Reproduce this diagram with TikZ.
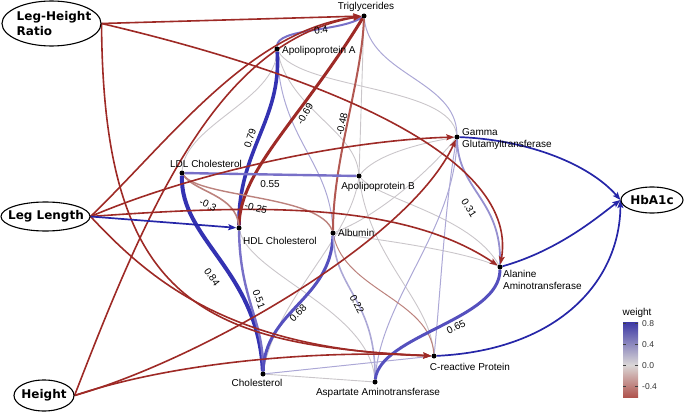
\documentclass[tikz,border=0pt]{standalone}
\usepackage{fontspec}
\setmainfont{Liberation Sans}
\newfontfamily\ovfont{DejaVu Sans}
\usetikzlibrary{arrows.meta,shapes.geometric}
\definecolor{redE}{RGB}{158,42,38}
\definecolor{blueE}{RGB}{38,38,168}
\definecolor{blueT}{RGB}{52,50,178}
\definecolor{blueM}{RGB}{85,80,190}
\definecolor{purM}{RGB}{120,112,200}
\definecolor{purN}{RGB}{150,144,208}
\definecolor{purL}{RGB}{172,168,214}
\definecolor{grayE}{RGB}{202,198,202}
\definecolor{redL}{RGB}{188,130,125}
\definecolor{redM}{RGB}{178,88,82}
\definecolor{legB}{RGB}{60,56,165}
\definecolor{legG}{RGB}{218,214,214}
\definecolor{legR}{RGB}{176,84,78}
\pgfdeclarelayer{bg}
\pgfsetlayers{bg,main}
\begin{document}
\begin{tikzpicture}[x=1pt,y=-1pt,
  dot/.style={circle,fill=black,inner sep=0pt,minimum size=5pt},
  lbl/.style={font=\fontsize{10}{12}\selectfont,inner sep=0pt},
  elbl/.style={font=\fontsize{10}{12}\selectfont,inner sep=0pt},
  oval/.style={ellipse,draw=black,line width=1.1pt,inner sep=0pt,fill=white},
  ovtxt/.style={font=\ovfont\bfseries\fontsize{12}{15}\selectfont,inner sep=0pt,align=left},
  tip/.style={-{Stealth[length=8pt,width=6pt,inset=1.5pt]}},
  redarrow/.style={draw=redE,line width=1.6pt,tip},
  bluearrow/.style={draw=blueE,line width=1.7pt,tip},
  weak/.style={draw=grayE,line width=0.9pt},
  weakp/.style={draw=purL,line width=1pt},
  tickmark/.style={draw=black!75,line width=0.6pt},
  ticklbl/.style={font=\fontsize{8.5}{10}\selectfont,inner sep=0pt,text=black!80},
]
\useasboundingbox (0,0) rectangle (685,412);

% ---------- outcome / exposure ellipses
\node[oval,minimum width=99pt,minimum height=45pt] (LHR) at (51.5,23.5) {};
\node[ovtxt] (LHRt) at (54,24) {Leg-Height\\Ratio};
\node[oval,minimum width=89pt,minimum height=29pt] (LL) at (45.5,216.5) {};
\node[ovtxt] (LLt) at (46,216.5) {Leg Length};
\node[oval,minimum width=60pt,minimum height=31pt] (H) at (44,395.5) {};
\node[ovtxt] (Ht) at (44,395.5) {Height};
\node[oval,minimum width=62pt,minimum height=26pt] (HbA) at (652,200) {};
\node[ovtxt] (HbAt) at (652,200) {HbA1c};

% ---------- biomarker dots
\node[dot] (TG) at (364,16) {};
\node[dot] (ApoA) at (277,49) {};
\node[dot] (GGT) at (457,137) {};
\node[dot] (LDL) at (182,173) {};
\node[dot] (ApoB) at (359,176) {};
\node[dot] (HDL) at (239,228) {};
\node[dot] (Alb) at (333,233) {};
\node[dot] (ALT) at (500,267) {};
\node[dot] (CRP) at (434,356) {};
\node[dot] (Chol) at (263,374) {};
\node[dot] (AST) at (375,382) {};

% ---------- biomarker labels
\node[lbl,anchor=base] (TGt) at (366,10) {Triglycerides};
\node[lbl,anchor=base west] (ApoAt) at (282,54) {Apolipoprotein A};
\node[lbl,anchor=base west] (GGTt1) at (462,135) {Gamma};
\node[lbl,anchor=base west] (GGTt2) at (462,147) {Glutamyltransferase};
\node[lbl,anchor=base] (LDLt) at (206,167) {LDL Cholesterol};
\node[lbl,anchor=base] (ApoBt) at (378,189) {Apolipoprotein B};
\node[lbl,anchor=base west] (HDLt) at (243,244) {HDL Cholesterol};
\node[lbl,anchor=base west] (Albt) at (338,236) {Albumin};
\node[lbl,anchor=base west] (ALTt1) at (503,277) {Alanine};
\node[lbl,anchor=base west] (ALTt2) at (503,289) {Aminotransferase};
\node[lbl,anchor=base] (CRPt) at (470,370) {C-reactive Protein};
\node[lbl,anchor=base] (Cholt) at (257,386) {Cholesterol};
\node[lbl,anchor=base] (ASTt) at (378,395) {Aspartate Aminotransferase};

\begin{pgfonlayer}{bg}
% ---------- weak edges
\draw[weak] (ApoA) .. controls (275,100) and (185,125) .. (LDL);
\draw[weak] (ApoA) .. controls (300,90) and (450,85) .. (GGT);
\draw[weak] (ApoA) .. controls (290,110) and (355,130) .. (ApoB);
\draw[weak] (TG) -- (ApoB);
\draw[weak] (ApoB) .. controls (380,150) and (440,140) .. (GGT);
\draw[weak] (ApoB) .. controls (350,240) and (275,300) .. (Chol);
\draw[weak] (ApoB) .. controls (380,200) and (470,215) .. (ALT);
\draw[weak] (ApoB) .. controls (370,260) and (430,300) .. (CRP);
\draw[weak] (Alb) .. controls (380,240) and (460,250) .. (ALT);
\draw[weak] (Alb) .. controls (380,215) and (430,170) .. (GGT);
\draw[weak] (HDL) .. controls (250,275) and (370,310) .. (AST);
\draw[weak] (Chol) -- (AST);
\draw[weakp] (Chol) -- (CRP);
\draw[weakp] (TG) .. controls (370,75) and (456,80) .. (GGT);
\draw[weakp] (ApoA) .. controls (280,140) and (330,160) .. (Alb);
\draw[weakp] (GGT) .. controls (445,200) and (440,300) .. (CRP);
\draw[weakp] (GGT) .. controls (455,230) and (380,300) .. (AST);
\draw[draw=redL,line width=1pt] (Alb) .. controls (345,290) and (430,300) .. (CRP);

% ---------- weighted edges
\draw[draw=purM,line width=2pt] (ApoA) .. controls (277,28) and (340,32) .. (TG);
\draw[draw=blueT,line width=3.6pt] (ApoA) .. controls (282,120) and (238,150) .. (HDL);
\draw[draw=redE,line width=3pt] (HDL) .. controls (240,170) and (300,120) .. (TG);
\draw[draw=redM,line width=2pt] (Alb) .. controls (333,160) and (362,80) .. (TG);
\draw[draw=purM,line width=2.4pt] (LDL) -- (ApoB);
\draw[draw=redL,line width=1.6pt] (LDL) .. controls (195,192) and (236,195) .. (HDL);
\draw[draw=redL,line width=1.4pt] (LDL) .. controls (200,198) and (320,195) .. (Alb);
\draw[draw=blueT,line width=4pt] (LDL) .. controls (180,240) and (258,270) .. (Chol);
\draw[draw=purM,line width=2.4pt] (HDL) .. controls (240,300) and (264,320) .. (Chol);
\draw[draw=blueM,line width=3pt] (Alb) .. controls (331,300) and (265,310) .. (Chol);
\draw[draw=purL,line width=1.6pt] (Alb) .. controls (335,290) and (376,300) .. (AST);
\draw[draw=purN,line width=1.8pt] (GGT) .. controls (458,190) and (502,200) .. (ALT);
\draw[draw=blueM,line width=3pt] (AST) .. controls (380,335) and (500,320) .. (ALT);

% ---------- directed edges
\draw[redarrow] (LHR.east) -- (TG);
\draw[redarrow] (LHR.east) .. controls (300,70) and (520,150) .. (ALT);
\draw[redarrow] (LHR.east) .. controls (103,300) and (200,345) .. (CRP);
\draw[redarrow] (LL.east) .. controls (170,140) and (250,30) .. (TG);
\draw[redarrow] (LL.east) .. controls (200,170) and (350,140) .. (GGT);
\draw[redarrow] (LL.east) .. controls (250,205) and (400,200) .. (ALT);
\draw[redarrow] (LL.east) .. controls (150,280) and (230,350) .. (CRP);
\draw[redarrow] (H.east) .. controls (150,200) and (220,40) .. (TG);
\draw[redarrow] (H.east) .. controls (200,360) and (410,240) .. (GGT);
\draw[redarrow] (H.east) .. controls (180,360) and (330,350) .. (CRP);
\draw[bluearrow] (LL.east) -- (HDL);
\draw[bluearrow] (GGT) .. controls (530,140) and (590,165) .. (HbA.west);
\draw[bluearrow] (ALT) .. controls (560,250) and (600,215) .. (HbA.west);
\draw[bluearrow] (CRP) .. controls (560,350) and (620,280) .. (HbA.west);
\end{pgfonlayer}

% ---------- edge labels
\node[elbl,rotate=10] (w1) at (321,30) {0.4};
\node[elbl,rotate=72] (w2) at (250,138) {0.79};
\node[elbl,rotate=60] (w3) at (305,114) {-0.69};
\node[elbl,rotate=78] (w4) at (342,124) {-0.48};
\node[elbl] (w5) at (270,184) {0.55};
\node[elbl,rotate=-25] (w6) at (208,205) {-0.3};
\node[elbl,rotate=-15] (w7) at (256,208) {-0.25};
\node[elbl,rotate=-55] (w8) at (212,277) {0.84};
\node[elbl,rotate=-70] (w9) at (259,299) {0.51};
\node[elbl,rotate=45] (w10) at (298,313) {0.68};
\node[elbl,rotate=-62] (w11) at (357,304) {0.22};
\node[elbl,rotate=-58] (w12) at (469,208) {0.31};
\node[elbl,rotate=27] (w13) at (456,327) {0.65};

% ---------- legend
\node[lbl,anchor=base] (legT) at (637,315) {weight};
\shade[top color=legB,bottom color=legG] (623,322) rectangle (638,365);
\shade[top color=legG,bottom color=legR] (623,365) rectangle (638,397);
\foreach \yy in {323,344,365,386}{
  \draw[tickmark] (623,\yy) -- (626,\yy);
  \draw[tickmark] (635,\yy) -- (638,\yy);
}
\node[ticklbl,anchor=base west] (l1) at (642,326) {0.8};
\node[ticklbl,anchor=base west] (l2) at (642,347) {0.4};
\node[ticklbl,anchor=base west] (l3) at (642,368) {0.0};
\node[ticklbl,anchor=base west] (l4) at (642,389) {-0.4};
\end{tikzpicture}
\end{document}
